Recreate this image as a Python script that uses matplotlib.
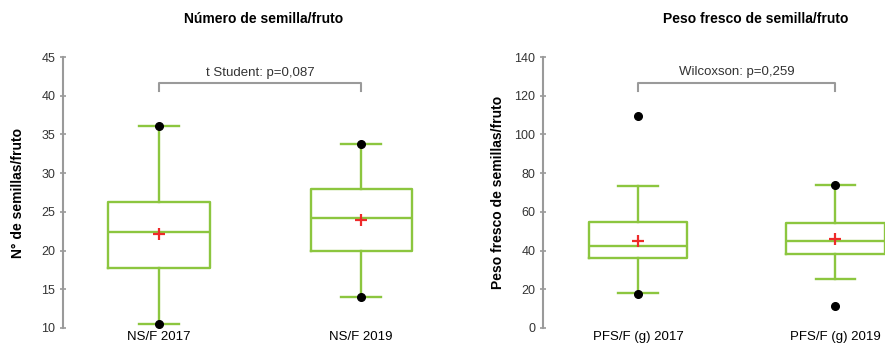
import matplotlib
matplotlib.use("Agg")
import matplotlib.pyplot as plt

plt.rcParams['font.family'] = ['Liberation Sans', 'DejaVu Sans']

# Número de semilla/fruto
ns_labels = ["NS/F 2017", "NS/F 2019"]
ns_q1 = [17.8, 20.0]
ns_med = [22.4, 24.2]
ns_q3 = [26.3, 28.0]
ns_lo = [10.5, 14.0]
ns_hi = [36.1, 33.8]
ns_mean = [22.1, 24.0]
ns_pts = [[10.5, 36.1], [14.0, 33.8]]

# Peso fresco de semilla/fruto
pf_labels = ["PFS/F (g) 2017", "PFS/F (g) 2019"]
pf_q1 = [36.0, 38.0]
pf_med = [42.4, 45.1]
pf_q3 = [54.9, 54.2]
pf_lo = [17.9, 25.5]
pf_hi = [73.3, 74.0]
pf_mean = [44.9, 46.1]
pf_pts = [[17.6, 109.7], [11.4, 74.0]]

green = "#8cc63f"
grey = "#9a9a9a"


def draw(ax, labels, q1, med, q3, lo, hi, mean, pts, ylim, yticks, ylabel,
         test_txt, br_y, br_drop, xlim, lpad):
    stats = []
    for i in range(len(labels)):
        stats.append(dict(label=labels[i], q1=q1[i], med=med[i], q3=q3[i],
                          whislo=lo[i], whishi=hi[i], mean=mean[i], fliers=pts[i]))
    ax.bxp(stats, positions=[1, 2], widths=0.5, capwidths=0.2, showmeans=True,
           boxprops=dict(color=green, lw=1.7),
           whiskerprops=dict(color=green, lw=1.7),
           capprops=dict(color=green, lw=1.7),
           medianprops=dict(color=green, lw=1.7),
           meanprops=dict(marker="+", markeredgecolor="#ee2a2a", markersize=9, mew=1.6),
           flierprops=dict(marker="o", markerfacecolor="black", markeredgecolor="black",
                           markersize=5.5))
    ax.set_ylim(*ylim)
    ax.set_xlim(*xlim)
    ax.set_yticks(yticks)
    for s in ["top", "right", "bottom"]:
        ax.spines[s].set_visible(False)
    ax.spines["left"].set_color(grey)
    ax.spines["left"].set_linewidth(1.5)
    ax.tick_params(axis="y", direction="inout", length=5, width=1.2, color=grey,
                   labelsize=9, labelcolor="#333333", pad=3)
    ax.tick_params(axis="x", length=0, labelsize=9.5, pad=2)
    ax.set_ylabel(ylabel, fontsize=10, fontweight="bold", labelpad=lpad)
    # corchete de la prueba
    ax.plot([1, 1, 2, 2], [br_y - br_drop, br_y, br_y, br_y - br_drop], color=grey,
            lw=1.5, clip_on=False)
    ax.text(1.5, br_y + br_drop * 0.6, test_txt, ha="center", va="bottom", fontsize=9.5,
            color="#333333")
    return ax


fig = plt.figure(figsize=(8.85, 3.46), dpi=100)
ax1 = fig.add_axes([63 / 885, 18 / 346, (452 - 63) / 885, 271 / 346])
ax2 = fig.add_axes([543 / 885, 18 / 346, (924 - 543) / 885, 271 / 346])

draw(ax1, ns_labels, ns_q1, ns_med, ns_q3, ns_lo, ns_hi, ns_mean, ns_pts,
     (10, 45), range(10, 46, 5), "N° de semillas/fruto",
     "t Student: p=0,087", 41.6, 1.0, (0.525, 2.45), 12)
draw(ax2, pf_labels, pf_q1, pf_med, pf_q3, pf_lo, pf_hi, pf_mean, pf_pts,
     (0, 140), range(0, 141, 20), "Peso fresco de semillas/fruto",
     "Wilcoxson: p=0,259", 126.5, 4.1, (0.518, 2.45), 7)

fig.text(264 / 885, 1 - 19 / 346, "Número de semilla/fruto", ha="center", va="center",
         fontsize=10, fontweight="bold")
fig.text(756 / 885, 1 - 19 / 346, "Peso fresco de semilla/fruto", ha="center",
         va="center", fontsize=10, fontweight="bold")

fig.savefig("out.png", dpi=100)
